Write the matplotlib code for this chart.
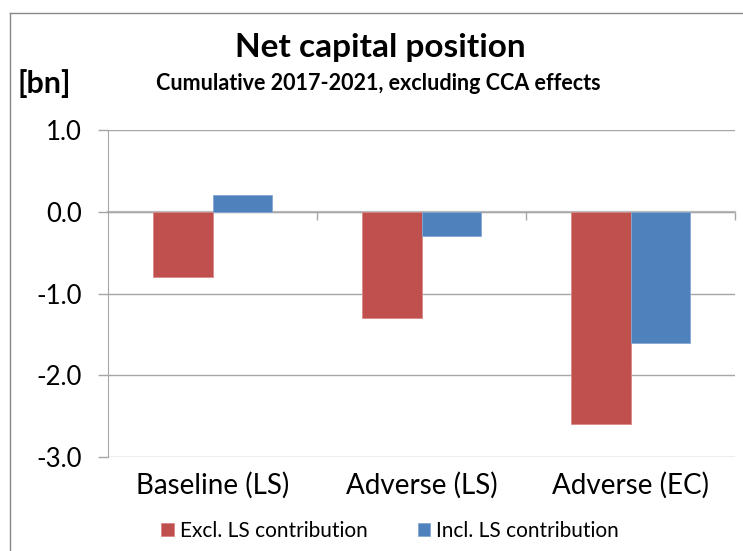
import matplotlib
matplotlib.use('Agg')
from matplotlib import pyplot as plt
from matplotlib.lines import Line2D
import numpy as np

categories = ['Baseline (LS)', 'Adverse (LS)', 'Adverse (EC)']
excl_ls = [-0.8, -1.3, -2.6]
incl_ls = [0.2, -0.3, -1.6]
series_names = ['Excl. LS contribution', 'Incl. LS contribution']
y_ticks = [1.0, 0.0, -1.0, -2.0, -3.0]

plt.rcParams['font.family'] = ['Lato', 'DejaVu Sans']

fig = plt.figure(figsize=(7.43, 5.51), dpi=100)
ax = fig.add_axes([108/743, 1-457/551, (735-108)/743, (457-130)/551])

x = np.arange(len(categories))
w = 1/3.5
b1 = ax.bar(x - w/2, excl_ls, w, color='#C0504D', edgecolor='#D88A88', linewidth=0.6, label=series_names[0], zorder=3)
b2 = ax.bar(x + w/2, incl_ls, w, color='#4F81BD', edgecolor='#86A8D2', linewidth=0.6, label=series_names[1], zorder=3)

ax.set_xlim(-0.5, 2.5)
ax.set_ylim(-3.0, 1.0)
ax.set_yticks(y_ticks)
ax.set_yticklabels(['%.1f' % v for v in y_ticks])
ax.yaxis.grid(True, color='#A6A6A6', linewidth=1.0, zorder=0)
for s in ['top', 'right', 'bottom']:
	ax.spines[s].set_visible(False)
ax.spines['left'].set_color('#A6A6A6')
ax.tick_params(axis='y', direction='out', length=7, width=1, color='#A6A6A6', pad=12, labelsize=18.5)
ax.set_xticks(x)
ax.set_xticklabels(categories, fontsize=20)
ax.tick_params(axis='x', length=0, pad=11)

# category axis running through zero
sec = ax.secondary_xaxis(0.75)
sec.set_xticks([0.5, 1.5, 2.5])
sec.set_xticklabels([])
sec.tick_params(axis='x', direction='in', length=6, width=1, color='#A6A6A6')
sec.spines['bottom'].set_color('#BFBFBF')
sec.spines['bottom'].set_linewidth(1.6)
sec.spines['top'].set_color('#BFBFBF')
sec.spines['top'].set_linewidth(1.6)

fig.text(380/743, 1-47/551, 'Net capital position', ha='center', va='center', fontsize=24, fontweight='bold')
fig.text(378/743, 1-83/551, 'Cumulative 2017-2021, excluding CCA effects', ha='center', va='center', fontsize=15.5, fontweight='bold')
fig.text(18/743, 1-84/551, '[bn]', ha='left', va='center', fontsize=22, fontweight='bold')

fig.legend(handles=[b1, b2], labels=series_names, loc='center', bbox_to_anchor=(390/743, 1-531/551),
	ncol=2, frameon=False, fontsize=15, handlelength=0.6, handleheight=0.6, handletextpad=0.3, columnspacing=2.4)

# outer chart border
fig.add_artist(Line2D([10/743, 1], [1-13/551, 1-13/551], transform=fig.transFigure, color='#888888', linewidth=1))
fig.add_artist(Line2D([10/743, 10/743], [0, 1-13/551], transform=fig.transFigure, color='#888888', linewidth=1))

plt.savefig('out.png', dpi=100)
